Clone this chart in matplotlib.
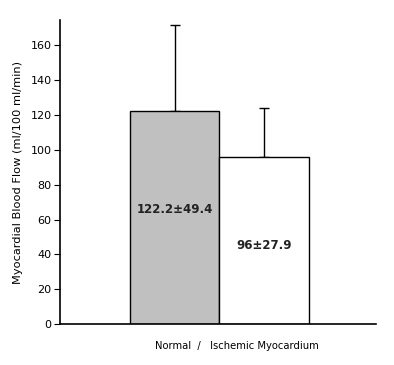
import matplotlib
matplotlib.use("Agg")
import matplotlib.pyplot as plt

# data
groups = ["Normal", "Ischemic Myocardium"]
means = [122.2, 96]
sds = [49.4, 27.9]
bar_colors = ["#c0c0c0", "#ffffff"]
labels = ["122.2\u00b149.4", "96\u00b127.9"]
label_y = [66, 45]
yticks = [0, 20, 40, 60, 80, 100, 120, 140, 160]

plt.rcParams["font.family"] = ["DejaVu Sans"]

fig = plt.figure(figsize=(3.94, 3.65), dpi=100)
ax = fig.add_axes([0.152, 0.112, 0.802, 0.833])

x = [0, 1]
ax.bar(x, means, width=1.0, color=bar_colors, edgecolor="black", linewidth=1.0, zorder=2)
ax.errorbar(x, means, yerr=[[0, 0], sds], fmt="none", ecolor="black",
            elinewidth=1.0, capsize=3.5, capthick=1.0, zorder=1)

for xi, yi, t in zip(x, label_y, labels):
    ax.text(xi, yi, t, ha="center", va="center", fontsize=8.5,
            fontweight="bold", color="#222222")

ax.set_xlim(-1.278, 2.244)
ax.set_ylim(0, 174.5)
ax.set_yticks(yticks)
ax.set_xticks([])
ax.tick_params(axis="y", direction="out", length=4, labelsize=8, pad=2)
for s in ["top", "right"]:
    ax.spines[s].set_visible(False)
ax.spines["left"].set_linewidth(1.2)
ax.spines["bottom"].set_linewidth(1.2)

ax.set_ylabel("Myocardial Blood Flow (ml/100 ml/min)", fontsize=8.2, labelpad=5)
ax.set_xlabel("Normal  /   Ischemic Myocardium", fontsize=7.2)
ax.xaxis.set_label_coords(0.56, -0.055)

fig.savefig("out.png", dpi=100)
